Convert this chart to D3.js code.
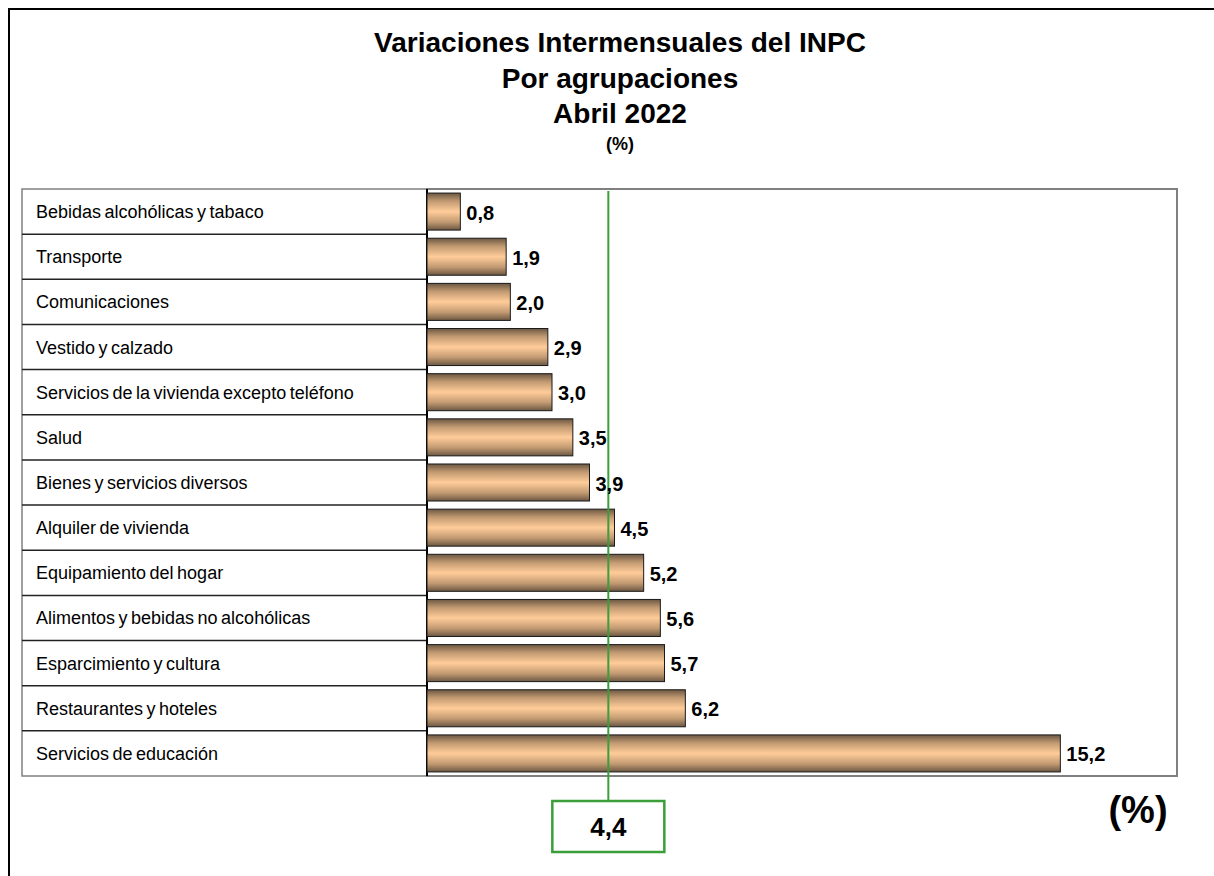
<!DOCTYPE html>
<html>
<head>
<meta charset="utf-8">
<script src="https://cdn.jsdelivr.net/npm/d3@7"></script>
<style>
  body { margin: 0; background: #fff; }
  svg { display: block; font-family: Arial, "Liberation Sans", sans-serif; }
</style>
</head>
<body>
<svg id="chart"></svg>
<script>
const width = 1214, height = 876;

// données : agrupaciones et variations (%)
const categories = [
  "Bebidas alcohólicas y tabaco",
  "Transporte",
  "Comunicaciones",
  "Vestido y calzado",
  "Servicios de la vivienda excepto teléfono",
  "Salud",
  "Bienes y servicios diversos",
  "Alquiler de vivienda",
  "Equipamiento del hogar",
  "Alimentos y bebidas no alcohólicas",
  "Esparcimiento y cultura",
  "Restaurantes y hoteles",
  "Servicios de educación"
];
const values = [0.8, 1.9, 2.0, 2.9, 3.0, 3.5, 3.9, 4.5, 5.2, 5.6, 5.7, 6.2, 15.2];
const general = 4.4;
const titleLines = ["Variaciones Intermensuales del INPC", "Por agrupaciones", "Abril 2022"];

const fmt = v => d3.format(".1f")(v).replace(".", ",");

const svg = d3.select("#chart")
    .attr("width", width)
    .attr("height", height);

// cadre extérieur
svg.append("rect")
    .attr("x", 9).attr("y", 9)
    .attr("width", width + 20).attr("height", height + 20)
    .attr("fill", "none")
    .attr("stroke", "#000")
    .attr("stroke-width", 2);

// titre
svg.selectAll(".title")
    .data(titleLines)
    .enter().append("text")
    .attr("class", "title")
    .attr("x", 620)
    .attr("y", (d, i) => 52 + i * 35.5)
    .attr("text-anchor", "middle")
    .attr("font-size", 28)
    .attr("font-weight", "bold")
    .text(d => d);

svg.append("text")
    .attr("x", 620).attr("y", 150)
    .attr("text-anchor", "middle")
    .attr("font-size", 18)
    .attr("font-weight", "bold")
    .text("(%)");

const plot = { left: 427, right: 1177, top: 189, bottom: 776 };
const tableLeft = 22;

const x = d3.scaleLinear()
    .domain([0, 18])
    .range([plot.left, plot.right]);

const y = d3.scaleBand()
    .domain(categories)
    .range([plot.top, plot.bottom])
    .paddingInner(0.18)
    .paddingOuter(0.09);

const row = d3.scaleBand()
    .domain(categories)
    .range([plot.top, plot.bottom]);

// dégradé des barres
const grad = svg.append("defs").append("linearGradient")
    .attr("id", "barGrad")
    .attr("x1", 0).attr("y1", 0).attr("x2", 0).attr("y2", 1);
[["0%", "#6b5742"], ["22%", "#c29a72"], ["50%", "#ffcc99"], ["78%", "#c29a72"], ["100%", "#6b5742"]]
    .forEach(s => grad.append("stop").attr("offset", s[0]).attr("stop-color", s[1]));

// zone du graphique
svg.append("rect")
    .attr("x", plot.left).attr("y", plot.top)
    .attr("width", plot.right - plot.left)
    .attr("height", plot.bottom - plot.top)
    .attr("fill", "#fff")
    .attr("stroke", "#808080")
    .attr("stroke-width", 2);

// tableau des libellés
svg.append("rect")
    .attr("x", tableLeft).attr("y", plot.top)
    .attr("width", plot.left - tableLeft)
    .attr("height", plot.bottom - plot.top)
    .attr("fill", "#fff")
    .attr("stroke", "#808080")
    .attr("stroke-width", 1.5);

svg.selectAll(".row-sep")
    .data(categories.slice(1))
    .enter().append("line")
    .attr("class", "row-sep")
    .attr("x1", tableLeft).attr("x2", plot.left)
    .attr("y1", d => row(d)).attr("y2", d => row(d))
    .attr("stroke", "#222")
    .attr("stroke-width", 1.5);

svg.append("line")
    .attr("x1", plot.left).attr("x2", plot.left)
    .attr("y1", plot.top).attr("y2", plot.bottom)
    .attr("stroke", "#000")
    .attr("stroke-width", 2);

svg.selectAll(".cat-label")
    .data(categories)
    .enter().append("text")
    .attr("class", "cat-label")
    .attr("x", 36)
    .attr("y", d => row(d) + row.bandwidth() / 2 + 6.5)
    .attr("font-size", 18)
    .attr("word-spacing", -1.5)
    .attr("fill", "#000")
    .text(d => d);

// barres
svg.selectAll(".bar")
    .data(values)
    .enter().append("rect")
    .attr("class", "bar")
    .attr("x", x(0))
    .attr("y", (d, i) => y(categories[i]))
    .attr("width", d => x(d) - x(0))
    .attr("height", y.bandwidth())
    .attr("fill", "url(#barGrad)")
    .attr("stroke", "#1a1a1a")
    .attr("stroke-width", 1);

// ligne INPC général
svg.append("line")
    .attr("x1", x(general) - 2).attr("x2", x(general) - 2)
    .attr("y1", plot.top + 2).attr("y2", 801)
    .attr("stroke", "#3a9e3a")
    .attr("stroke-width", 2);

svg.append("rect")
    .attr("x", x(general) - 58).attr("y", 801)
    .attr("width", 112).attr("height", 51)
    .attr("fill", "#fff")
    .attr("stroke", "#3a9e3a")
    .attr("stroke-width", 2.5);

svg.append("text")
    .attr("x", x(general) - 2).attr("y", 836)
    .attr("text-anchor", "middle")
    .attr("font-size", 26)
    .attr("font-weight", "bold")
    .text(fmt(general));

// étiquettes des valeurs
svg.selectAll(".val")
    .data(values)
    .enter().append("text")
    .attr("class", "val")
    .attr("x", d => x(d) + 6)
    .attr("y", (d, i) => y(categories[i]) + y.bandwidth() / 2 + 8)
    .attr("font-size", 20)
    .attr("font-weight", "bold")
    .text(d => fmt(d));

svg.append("text")
    .attr("x", 1138).attr("y", 823)
    .attr("text-anchor", "middle")
    .attr("font-size", 38)
    .attr("font-weight", "bold")
    .text("(%)");
</script>
</body>
</html>
